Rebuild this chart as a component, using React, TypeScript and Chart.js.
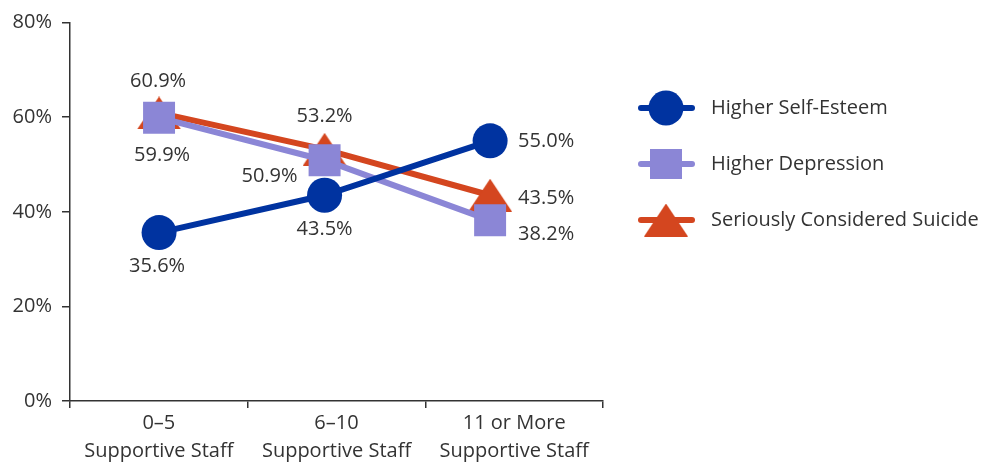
import React, { useEffect, useRef } from "react";
import { Chart, registerables } from "chart.js";

Chart.register(...registerables);

const categories = [
  ["0–5", "Supportive Staff"],
  ["6–10", "Supportive Staff"],
  ["11 or More", "Supportive Staff"],
];
const seriesNames = ["Higher Self-Esteem", "Higher Depression", "Seriously Considered Suicide"];
const selfEsteem = [35.6, 43.5, 55.0];
const depression = [59.9, 50.9, 38.2];
const suicide = [60.9, 53.2, 43.5];
const yTickValues = [0, 20, 40, 60, 80];

const colors = ["#0033A0", "#8B86D6", "#D4461F"];
const FONT = "'Open Sans', Roboto, sans-serif";
const TEXT = "#333333";
const FS = 20;

// label placement relative to each point: [align, dx, dy]
const labelPlacement: [CanvasTextAlign, number, number][][] = [
  [["center", -2, 34], ["center", 0, 34], ["left", 28, 0]],
  [["center", 3, 38], ["right", -27, 16], ["left", 28, 14]],
  [["center", -1, -32], ["center", 0, -33], ["left", 28, 3]],
];

function makeTriangle(color: string, w: number, h: number) {
  const c = document.createElement("canvas");
  c.width = w;
  c.height = h;
  const ctx = c.getContext("2d")!;
  ctx.fillStyle = color;
  ctx.beginPath();
  ctx.moveTo(w / 2, 0);
  ctx.lineTo(w, h);
  ctx.lineTo(0, h);
  ctx.closePath();
  ctx.fill();
  return c;
}

export default function App() {
  const ref = useRef<HTMLCanvasElement | null>(null);

  useEffect(() => {
    const canvas = ref.current!;
    const tri = makeTriangle(colors[2], 44, 33);
    const styles: any[] = ["circle", "rect", tri];
    const radii = [17.5, 22.6, 18];
    const values = [selfEsteem, depression, suicide];

    const labelPlugin = {
      id: "pointLabels",
      afterDatasetsDraw(chart: any) {
        const ctx = chart.ctx;
        ctx.save();
        ctx.font = `${FS}px ${FONT}`;
        ctx.fillStyle = TEXT;
        ctx.textBaseline = "middle";
        chart.data.datasets.forEach((ds: any, di: number) => {
          const meta = chart.getDatasetMeta(di);
          meta.data.forEach((pt: any, i: number) => {
            const [align, dx, dy] = labelPlacement[di][i];
            ctx.textAlign = align;
            ctx.fillText(values[di][i].toFixed(1) + "%", pt.x + dx, pt.y + dy);
          });
        });
        ctx.restore();
      },
    };

    const legendPlugin = {
      id: "customLegend",
      afterDraw(chart: any) {
        const ctx = chart.ctx;
        ctx.save();
        const ys = [108, 164, 220];
        seriesNames.forEach((name, i) => {
          const y = ys[i];
          ctx.strokeStyle = colors[i];
          ctx.lineWidth = 6;
          ctx.lineCap = "round";
          ctx.beginPath();
          ctx.moveTo(641, y);
          ctx.lineTo(692, y);
          ctx.stroke();
          ctx.fillStyle = colors[i];
          if (i === 0) {
            ctx.beginPath();
            ctx.arc(666, y, 17.5, 0, Math.PI * 2);
            ctx.fill();
          } else if (i === 1) {
            ctx.fillRect(666 - 16, y - 15, 32, 30);
          } else {
            ctx.drawImage(tri, 666 - 22, y - 16.5);
          }
          ctx.fillStyle = TEXT;
          ctx.font = `${FS}px ${FONT}`;
          ctx.textAlign = "left";
          ctx.textBaseline = "middle";
          ctx.fillText(name, 711, y);
        });
        ctx.restore();
      },
    };

    const chart = new Chart(canvas, {
      type: "line",
      data: {
        labels: categories as any,
        datasets: values.map((vals, di) => ({
          label: seriesNames[di],
          data: vals.map((v, i) => ({ x: i, y: v })),
          xAxisID: "xp",
          yAxisID: "y",
          borderColor: colors[di],
          backgroundColor: colors[di],
          borderWidth: 6,
          pointStyle: styles[di],
          pointRadius: radii[di],
          pointHoverRadius: radii[di],
          pointBorderWidth: 0,
          pointBackgroundColor: colors[di],
          tension: 0,
        })),
      },
      options: {
        responsive: false,
        animation: false,
        events: [],
        layout: { padding: { top: 18, right: 381, left: 0, bottom: 0 } },
        plugins: { legend: { display: false }, tooltip: { enabled: false } },
        scales: {
          x: {
            type: "category",
            offset: true,
            grid: {
              offset: true,
              drawOnChartArea: false,
              drawTicks: true,
              tickLength: 7,
              color: "#333",
              lineWidth: 1.5,
            },
            border: { display: true, color: "#333", width: 1.5 },
            ticks: {
              color: TEXT,
              font: { family: FONT, size: FS, lineHeight: 1.4 },
              padding: 1,
              maxRotation: 0,
              autoSkip: false,
            },
            afterFit(scale: any) {
              scale.height = 63;
            },
          },
          xp: {
            type: "linear",
            display: false,
            min: -0.538,
            max: 2.682,
          },
          y: {
            type: "linear",
            min: 0,
            max: 80,
            afterBuildTicks(scale: any) {
              scale.ticks = yTickValues.map((v) => ({ value: v }));
            },
            grid: {
              drawOnChartArea: false,
              drawTicks: true,
              tickLength: 8,
              color: "#333",
              lineWidth: 1.5,
            },
            border: { display: true, color: "#333", width: 1.5 },
            ticks: {
              color: TEXT,
              font: { family: FONT, size: FS },
              padding: 10,
              callback: (v: any) => v + "%",
            },
            afterFit(scale: any) {
              scale.width = 70;
            },
          },
        },
      },
      plugins: [labelPlugin, legendPlugin],
    });
    return () => chart.destroy();
  }, []);

  return (
    <div style={{ position: "absolute", left: 0, top: 0, width: 984, height: 464, background: "#fff" }}>
      <canvas ref={ref} width={984} height={464} />
    </div>
  );
}
